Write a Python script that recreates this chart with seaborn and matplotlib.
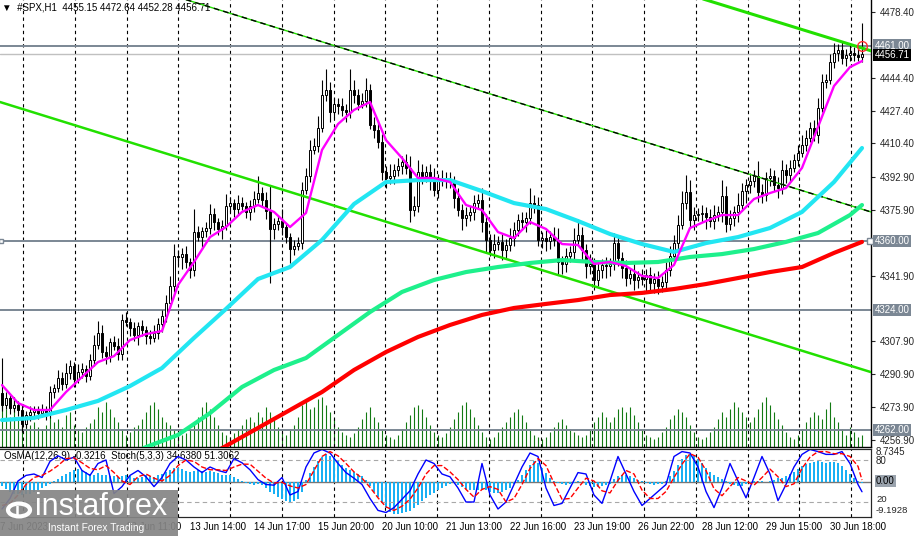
import numpy as np
import matplotlib
matplotlib.use("Agg")
import matplotlib.pyplot as plt
import seaborn as sns
from matplotlib.patches import Rectangle, Circle

sns.set_style("white")
plt.rcParams["font.family"] = ["Liberation Sans", "DejaVu Sans"]

# --- dados ---
first_open = 4281.2
closes = [
    4275.0, 4278.6, 4273.4, 4275.0, 4272.4, 4265.2, 4269.8, 4271.4, 4272.4, 4270.8,
    4272.4, 4270.3, 4281.7, 4283.8, 4289.0, 4285.9, 4291.5, 4295.2, 4288.4, 4292.1,
    4293.6, 4290.0, 4298.3, 4306.0, 4312.3, 4302.4, 4300.3, 4307.6, 4305.5, 4301.4,
    4319.0, 4317.9, 4314.8, 4311.2, 4315.9, 4313.8, 4310.7, 4309.7, 4312.3, 4316.9,
    4321.1, 4327.8, 4336.6, 4352.1, 4351.6, 4353.1, 4349.0, 4344.9, 4364.5, 4361.9,
    4365.0, 4366.6, 4373.8, 4369.7, 4366.1, 4367.6, 4378.0, 4379.5, 4376.4, 4379.5,
    4378.0, 4374.9, 4378.0, 4381.6, 4384.7, 4381.1, 4375.4, 4366.1, 4368.7, 4370.2,
    4367.1, 4361.9, 4355.7, 4357.3, 4358.8, 4386.3, 4393.5, 4407.0, 4409.0, 4418.4,
    4435.4, 4438.0, 4426.6, 4430.8, 4429.7, 4427.7, 4426.6, 4438.0, 4435.4, 4430.8,
    4432.3, 4438.0, 4419.9, 4417.3, 4411.1, 4395.6, 4392.5, 4393.5, 4396.6, 4398.7,
    4400.8, 4397.7, 4375.9, 4378.0, 4395.6, 4393.5, 4395.6, 4392.5, 4386.3, 4391.4,
    4392.5, 4391.4, 4390.4, 4382.1, 4375.9, 4371.8, 4373.3, 4374.9, 4379.5, 4381.1,
    4369.7, 4360.4, 4355.2, 4358.3, 4359.4, 4355.2, 4357.8, 4361.4, 4365.6, 4370.7,
    4369.7, 4371.8, 4379.5, 4378.5, 4360.4, 4361.4, 4359.9, 4361.9, 4360.4, 4349.0,
    4348.0, 4352.1, 4354.2, 4360.4, 4363.0, 4355.2, 4346.9, 4348.0, 4339.7, 4344.9,
    4347.5, 4346.9, 4348.0, 4358.8, 4351.1, 4345.9, 4340.7, 4342.8, 4339.7, 4341.2,
    4340.2, 4342.3, 4338.1, 4340.2, 4336.6, 4338.7, 4344.9, 4352.1, 4358.8, 4368.2,
    4379.5, 4385.2, 4370.7, 4373.3, 4373.8, 4374.4, 4372.3, 4370.2, 4373.3, 4374.9,
    4383.2, 4368.7, 4371.8, 4374.9, 4378.5, 4385.7, 4388.9, 4390.9, 4393.5, 4385.2,
    4383.7, 4392.5, 4393.5, 4388.9, 4387.3, 4396.6, 4394.0, 4397.7, 4401.8, 4405.4,
    4409.6, 4413.2, 4418.4, 4414.7, 4428.7, 4442.2, 4443.2, 4452.5, 4457.2, 4458.7,
    4454.6, 4456.1, 4457.2, 4456.1, 4455.15, 4456.71,
]
upper_wick = [
    18, 3, 2, 4, 2, 3, 2, 3, 2, 2, 3, 2, 3,
    2, 4, 3, 5, 3, 2, 4, 3, 2, 3, 5, 6, 4,
    3, 2, 3, 4, 3, 4, 2, 3, 2, 3, 2, 3, 4,
    3, 3, 4, 5, 6, 3, 3, 4, 2, 12, 3, 2, 3,
    5, 3, 2, 3, 6, 3, 2, 4, 3, 2, 3, 4, 9,
    3, 4, 13, 3, 3, 6, 2, 2, 3, 3, 4, 4, 5,
    4, 6, 8, 11, 4, 3, 3, 4, 3, 11, 5, 3, 4,
    6, 3, 4, 5, 4, 3, 6, 3, 4, 3, 4, 6, 5,
    6, 4, 3, 4, 5, 3, 4, 3, 4, 3, 5, 3, 4,
    3, 4, 3, 6, 4, 3, 5, 3, 4, 3, 5, 4, 3,
    4, 3, 8, 4, 4, 3, 4, 3, 5, 6, 3, 4, 3,
    6, 8, 4, 3, 5, 3, 4, 3, 4, 3, 5, 4, 3,
    4, 3, 5, 3, 4, 3, 4, 3, 4, 3, 4, 5, 4,
    5, 6, 9, 6, 4, 3, 4, 3, 4, 5, 3, 8, 5,
    4, 3, 6, 4, 3, 4, 3, 8, 4, 3, 4, 3, 4,
    5, 3, 4, 3, 4, 5, 4, 3, 4, 5, 4, 3, 4,
    5, 3, 4, 3, 4, 3, 4, 15.93,
]
lower_wick = [
    3, 2, 3, 2, 3, 4, 2, 3, 2, 3, 2, 3, 2,
    3, 2, 3, 2, 3, 4, 2, 3, 3, 2, 3, 2, 3,
    4, 3, 2, 3, 3, 2, 4, 3, 5, 3, 4, 3, 2,
    3, 4, 3, 2, 3, 4, 6, 3, 4, 3, 2, 6, 3,
    3, 4, 3, 5, 2, 3, 4, 3, 2, 3, 4, 3, 2,
    3, 4, 28, 5, 3, 4, 3, 7, 3, 2, 3, 2, 3,
    2, 3, 2, 3, 5, 3, 4, 3, 5, 3, 4, 3, 2,
    3, 2, 4, 3, 4, 5, 3, 4, 3, 4, 3, 6, 3,
    3, 4, 3, 6, 3, 4, 3, 4, 3, 5, 3, 6, 4,
    3, 4, 3, 5, 6, 3, 4, 3, 5, 4, 3, 4, 3,
    4, 5, 3, 4, 3, 4, 5, 4, 3, 6, 5, 4, 3,
    4, 3, 5, 6, 4, 5, 3, 4, 6, 5, 3, 4, 5,
    4, 3, 5, 4, 3, 6, 4, 5, 4, 3, 4, 3, 2,
    3, 2, 3, 4, 5, 3, 4, 6, 3, 4, 3, 5, 4,
    3, 4, 5, 3, 6, 4, 3, 5, 4, 3, 4, 3, 5,
    3, 4, 3, 2, 3, 2, 3, 2, 3, 4, 2, 3, 2,
    3, 4, 3, 4, 3, 3, 2, 2.87,
]
volume = [
    45, 38, 30, 50, 28, 35, 30, 22, 25, 20, 18, 22, 30,
    25, 28, 20, 32, 35, 22, 18, 15, 20, 24, 28, 40, 35,
    45, 38, 30, 25, 18, 12, 15, 20, 22, 28, 35, 42, 45,
    38, 30, 25, 22, 18, 15, 12, 14, 18, 25, 30, 40, 45,
    38, 30, 22, 15, 12, 10, 14, 18, 22, 28, 30, 25, 35,
    30, 40, 35, 28, 20, 15, 12, 18, 22, 30, 42, 45, 38,
    40, 48, 50, 42, 35, 28, 20, 15, 12, 10, 14, 20, 28,
    35, 40, 30, 25, 18, 12, 10, 8, 12, 18, 25, 32, 40,
    42, 38, 30, 22, 15, 12, 10, 14, 20, 28, 35, 42, 45,
    38, 30, 22, 15, 10, 8, 10, 15, 20, 25, 30, 35, 38,
    32, 25, 18, 12, 10, 8, 10, 15, 20, 25, 28, 22, 18,
    15, 12, 10, 12, 18, 25, 30, 35, 30, 25, 30, 38, 40,
    35, 40, 32, 25, 18, 12, 10, 8, 10, 15, 20, 28, 32,
    38, 35, 30, 22, 15, 10, 8, 10, 15, 20, 28, 35, 30,
    38, 45, 40, 35, 30, 25, 30, 38, 45, 50, 42, 35, 28,
    22, 15, 10, 8, 12, 18, 25, 30, 35, 32, 28, 38, 45,
    30, 25, 18, 12, 20, 15, 10, 12,
]

# médias móveis (amostradas do gráfico)
ma_fast_idx = list(range(0, 216, 4)) + [215]
ma_fast = [
    4285.3, 4276.0, 4272.4, 4272.4, 4281.7, 4289.5, 4297.2, 4300.3, 4308.6, 4311.7,
    4313.3, 4337.1, 4349.0, 4361.9, 4367.1, 4374.9, 4378.5, 4374.9, 4367.1, 4374.4,
    4407.0, 4420.4, 4427.7, 4431.8, 4412.1, 4402.8, 4392.5, 4392.5, 4390.4, 4378.5,
    4375.9, 4364.5, 4361.4, 4369.7, 4366.1, 4358.3, 4357.8, 4348.0, 4349.0, 4346.9,
    4341.8, 4340.7, 4347.5, 4366.6, 4370.2, 4373.3, 4373.3, 4381.6, 4384.7, 4387.3,
    4397.7, 4418.9, 4440.1, 4449.9, 4453.0,
]
ma_cyan_idx = list(range(0, 216, 8)) + [215]
ma_cyan = [
    4267.2, 4268.3, 4272.4, 4277.1, 4284.8, 4294.1, 4309.7, 4324.7, 4340.2, 4346.4,
    4360.4, 4379.0, 4390.4, 4391.4, 4391.4, 4385.7, 4379.5, 4376.4, 4370.2, 4363.5,
    4358.3, 4354.2, 4358.8, 4361.9, 4366.6, 4374.9, 4390.4, 4408.0,
]
ma_green_idx = [32, 36] + list(range(44, 213, 8)) + [215]
ma_green = [
    4249.1, 4253.2, 4259.5, 4270.8, 4284.3, 4293.1, 4299.3, 4311.2, 4323.1, 4333.5,
    4339.7, 4343.8, 4346.4, 4348.5, 4350.0, 4349.0, 4348.5, 4349.0, 4351.6, 4353.1,
    4355.7, 4359.4, 4364.0, 4373.3, 4378.5,
]
ma_red_idx = [52, 56] + list(range(64, 209, 8)) + [215]
ma_red = [
    4249.1, 4253.8, 4263.1, 4272.4, 4281.7, 4293.1, 4302.4, 4310.2, 4316.4, 4321.6,
    4325.2, 4327.3, 4329.3, 4331.9, 4333.0, 4335.0, 4337.6, 4340.7, 4343.8, 4346.4,
    4353.7, 4359.4,
]

# linhas de tendência (pontos de ancoragem)
chan_low_x, chan_low_y = [-0.5, 217.25], [4431.8, 4292.0]
chan_up_x, chan_up_y = [175.0, 217.25], [4485.3, 4458.3]
dash_x, dash_y = [46.0, 217.25], [4484.8, 4374.9]

levels = [4461.00, 4360.00, 4324.00, 4262.00]
bid = 4456.71
price_ticks = [4478.40, 4444.40, 4427.40, 4410.40, 4392.90, 4375.90,
               4341.90, 4307.90, 4290.90, 4273.90, 4256.90]

# OsMA e estocástico
osma = [
    -1.0, -1.8, -2.5, -3.0, -3.2, -3.3, -3.2, -3.0, -2.6,
    -2.0, -1.5, -1.0, -0.5,
    0.3, 0.8, 1.5, 2.2, 2.8, 3.3, 3.5, 3.2,
    2.6, 2.2, 2.0, 2.3, 2.0, 1.8, 1.5, 1.6,
    1.4, 1.5, 1.8, 1.6, 1.2,
    1.0, 1.3, 1.8, 1.6, 1.4, 1.8, 2.2,
    2.8, 3.3, 3.8, 3.7, 3.4, 3.0, 2.6, 3.0,
    3.2, 3.0, 2.8, 3.0, 2.7, 2.3, 2.0,
    2.0, 1.8, 1.4, 0.8, 0.2,
    -0.3, -0.6, -0.8, -0.5, -0.8, -1.5, -2.5, -3.2,
    -3.8, -4.5, -5.0, -5.4, -5.0, -4.5, -2.5,
    0.5, 2.5, 4.0, 5.5, 6.5, 7.3, 7.0, 6.5,
    5.5, 4.5, 3.8, 3.3, 2.8, 2.2, 1.5,
    0.5, -1.0, -2.5, -4.0, -5.5,
    -6.8, -7.8, -8.5, -8.5, -8.2, -7.8, -7.5,
    -6.8, -6.0, -5.0, -4.2, -3.5, -2.8, -2.2, -1.5,
    -1.0, -0.5, -0.2, -0.8, -1.3, -1.8,
    -2.0, -2.2, -2.0, -1.8, -2.2, -2.6, -2.8, -2.8, -2.6, -2.2, -1.5, -0.5,
    0.5, 1.8, 3.2, 4.5, 5.5, 5.0,
    3.8, 2.5, 1.2, 0.3, -0.3, -0.6,
    -0.8, -0.6, -0.2, 0.2, -0.2, -0.8, -1.0, -1.2, -1.3, -1.0, -0.8, -0.5,
    0.8, 1.5, 2.0, 1.8, 1.5, 1.2, 0.6, 0.2,
    -0.3, -0.6, -0.8, -0.6, -0.4, 0.2,
    1.5, 3.0, 4.5, 6.0, 7.2, 7.5, 7.0, 6.0,
    5.0, 3.8, 2.8, 2.0, 1.4, 0.8, 0.2,
    -0.4, -0.8, -1.0, -0.9, -0.6, -0.2, 0.2,
    0.3, 0.2, 0.1, 0.3, 0.6,
    1.0, 1.2, 1.6, 2.2, 2.8, 3.5, 4.2, 4.8, 5.0, 5.3, 5.5, 5.3,
    5.0, 5.2, 5.4, 5.0, 4.2, 3.2, 2.2, 1.2, 0.4, -0.3216,
]
stoch_idx = list(range(0, 216, 2)) + [215]
stoch_main = [
    10, 25, 50, 58, 60, 55, 78, 86, 80, 84,
    65, 58, 75, 80, 32, 42, 58, 65, 56, 42,
    55, 75, 85, 80, 70, 62, 70, 65, 62, 82,
    76, 66, 52, 45, 44, 55, 30, 35, 70, 90,
    95, 90, 75, 62, 54, 45, 25, 8, 5, 12,
    24, 36, 60, 80, 75, 60, 56, 40, 20, 20,
    75, 30, 10, 20, 45, 70, 90, 85, 40, 15,
    18, 40, 62, 60, 30, 18, 50, 85, 60, 35,
    15, 25, 35, 45, 85, 92, 90, 70, 35, 12,
    40, 75, 50, 26, 55, 85, 60, 22, 45, 70,
    88, 95, 92, 88, 88, 92, 75, 45, 34.638,
]
stoch_signal = [
    15, 18, 30, 45, 55, 58, 64, 72, 82, 83,
    76, 68, 66, 72, 62, 50, 45, 56, 60, 54,
    50, 58, 72, 80, 78, 70, 66, 66, 65, 70,
    74, 74, 64, 54, 47, 48, 43, 40, 45, 65,
    85, 92, 86, 75, 63, 54, 41, 26, 13, 8,
    14, 24, 40, 60, 72, 72, 63, 52, 38, 27,
    38, 42, 38, 20, 25, 45, 68, 82, 72, 47,
    24, 25, 40, 54, 50, 36, 33, 51, 65, 60,
    37, 25, 25, 35, 55, 74, 89, 84, 65, 39,
    29, 42, 55, 50, 44, 55, 67, 56, 42, 46,
    68, 84, 92, 92, 89, 89, 85, 71, 51.3062,
]

time_labels = ["7 Jun 2023", "12 Jun 11:00", "13 Jun 14:00", "14 Jun 17:00",
               "15 Jun 20:00", "20 Jun 10:00", "21 Jun 13:00", "22 Jun 16:00",
               "23 Jun 19:00", "26 Jun 22:00", "28 Jun 12:00", "29 Jun 15:00",
               "30 Jun 18:00"]
time_label_pos = [-0.5, 31, 47, 63, 79, 95, 111, 127, 143, 159, 175, 191, 207]
grid_pos = [5.25 + 12.94 * k for k in range(17)]

# --- figura ---
W, H = 920, 536
fig = plt.figure(figsize=(W / 100, H / 100), dpi=100)
main_rect = [0, 1 - 447 / H, 871 / W, 447 / H]
sub_rect = [0, 1 - 517 / H, 871 / W, 68 / H]
xlim = (-0.5, 217.25)
ylim = (4484.61 - 0.5176 * 447, 4484.61)

# volumes atrás das velas
ax_v = fig.add_axes(main_rect, zorder=0)
idx = np.arange(len(closes))
ax_v.vlines(idx, 0, volume, color="#137a13", lw=0.8)
ax_v.set_xlim(*xlim)
ax_v.set_ylim(0, 447)
ax_v.axis("off")

ax = fig.add_axes(main_rect, zorder=2)
ax.patch.set_visible(False)
ax.set_xlim(*xlim)
ax.set_ylim(*ylim)

for g in grid_pos:
    ax.axvline(g, color="black", lw=0.8, ls=(0, (3, 3)), zorder=1)

for lv in levels:
    ax.axhline(lv, color="#7b8794", lw=1.4, zorder=1)
ax.axhline(bid, color="#c0c0c0", lw=1.0, zorder=1)

c = np.array(closes)
o = np.array([first_open] + closes[:-1])
hi = np.maximum(o, c) + np.array(upper_wick)
lo = np.minimum(o, c) - np.array(lower_wick)
ax.vlines(idx, lo, hi, color="black", lw=0.8, zorder=3)
up = c >= o
h_up = np.maximum((c - o)[up], 0.4)
h_dn = np.maximum((o - c)[~up], 0.4)
ax.bar(idx[up], h_up, bottom=o[up], width=0.72, color="white", edgecolor="black", lw=0.7, zorder=4)
ax.bar(idx[~up], h_dn, bottom=c[~up], width=0.72, color="black", edgecolor="black", lw=0.7, zorder=4)

# linhas de tendência
sns.lineplot(x=chan_low_x, y=chan_low_y, ax=ax, color="#22e000", lw=1.8, zorder=5)
sns.lineplot(x=chan_up_x, y=chan_up_y, ax=ax, color="#22e000", lw=2.2, zorder=5)
sns.lineplot(x=dash_x, y=dash_y, ax=ax, color="#22e000", lw=1.0, zorder=5)
ax.plot(dash_x, dash_y, color="black", lw=1.0, ls=(0, (4, 3)), zorder=5)

# médias móveis
sns.lineplot(x=ma_red_idx, y=ma_red, ax=ax, color="#ff0000", lw=3.0, zorder=6)
sns.lineplot(x=ma_green_idx, y=ma_green, ax=ax, color="#1ef08c", lw=3.0, zorder=6)
sns.lineplot(x=ma_cyan_idx, y=ma_cyan, ax=ax, color="#22e6f2", lw=3.0, zorder=6)
sns.lineplot(x=ma_fast_idx, y=ma_fast, ax=ax, color="#ff00ff", lw=1.7, zorder=7)

ax.plot([215], [levels[0]], "o", ms=7, mfc="none", mec="#ff3030", mew=1.0, zorder=8)
ax.plot([217.1], [levels[1]], "s", ms=4, mfc="white", mec="#7b8794", mew=1.0,
        zorder=8, clip_on=False)
ax.plot([-0.3], [levels[1]], "s", ms=3, mfc="white", mec="#7b8794", mew=1.0,
        zorder=8, clip_on=False)

ax.yaxis.tick_right()
ax.set_yticks(price_ticks)
ax.set_yticklabels([f"{p:.2f}" for p in price_ticks])
ax.tick_params(axis="y", labelsize=7, length=3, width=0.8, pad=3, right=True, left=False)
ax.set_xticks([])
ax.set_xlabel("")
ax.set_ylabel("")
for s in ["top", "left"]:
    ax.spines[s].set_visible(False)
for s in ["right", "bottom"]:
    ax.spines[s].set_color("black")
    ax.spines[s].set_linewidth(1.0)

yt = ax.get_yaxis_transform()
for lv in levels:
    ax.text(1.004, lv, f"{lv:.2f}", transform=yt, ha="left", va="center", fontsize=7,
            color="white", bbox=dict(boxstyle="square,pad=0.12", fc="#7b8794", ec="none"))
ax.text(1.004, bid - 0.4, f"{bid:.2f}", transform=yt, ha="left", va="center", fontsize=7,
        color="white", bbox=dict(boxstyle="square,pad=0.12", fc="black", ec="none"))

ax.text(2 / 871, 1 - 8 / 447, "\u25bc  #SPX,H1  4455.15 4472.64 4452.28 4456.71",
        transform=ax.transAxes, ha="left", va="center", fontsize=7, color="black",
        family=["Liberation Sans", "DejaVu Sans"])

# --- sub-janela OsMA + Stoch ---
ax_o = fig.add_axes(sub_rect, zorder=1)
ax_o.set_xlim(*xlim)
ax_o.set_ylim(-9.1928, 8.7345)
for g in grid_pos:
    ax_o.axvline(g, color="black", lw=0.8, ls=(0, (3, 3)), zorder=1)
ax_o.axhline(0, color="#777777", lw=1.0, zorder=2)
ax_o.bar(np.arange(len(osma)), osma, width=0.72, color="#18b0f4", lw=0, zorder=3)
ax_o.set_xticks([])
ax_o.set_yticks([])
ax_o.spines["left"].set_visible(False)

ax_s = ax_o.twinx()
ax_s.set_ylim(-1.43, 95.7)
ax_s.set_xlim(*xlim)
ax_s.axhline(80, color="#a8a8a8", lw=0.8, ls=(0, (4, 3)))
ax_s.axhline(20, color="#a8a8a8", lw=0.8, ls=(0, (4, 3)))
sns.lineplot(x=stoch_idx, y=stoch_main, ax=ax_s, color="#0000ff", lw=1.0)
sns.lineplot(x=stoch_idx, y=stoch_signal, ax=ax_s, color="#ff0000", lw=1.0, linestyle="--")
ax_s.set_yticks([])
ax_s.set_ylabel("")
ax_s.spines["left"].set_visible(False)

ax_o.text(4 / 871, 0.89, "OsMA(12,26,9) -0.3216  Stoch(5,3,3) 34.6380 51.3062",
          transform=ax_o.transAxes, ha="left", va="center", fontsize=7, color="black",
          zorder=6)


def fx(px):
    return px / W


def fy(py):
    return 1 - py / H


fig.text(fx(876), fy(452), "8.7345", fontsize=7, va="center")
fig.text(fx(876), fy(461), "80", fontsize=7, va="center")
fig.text(fx(876), fy(481), "0.00", fontsize=7, va="center", color="black",
         bbox=dict(boxstyle="square,pad=0.12", fc="#9aa3ad", ec="none"))
fig.text(fx(876), fy(499), "20", fontsize=6.8, va="center")
fig.text(fx(876), fy(510.5), "-9.1928", fontsize=6.8, va="center")

for lab, pos in zip(time_labels, time_label_pos):
    ax_o.text(pos, -0.15, lab, transform=ax_o.get_xaxis_transform(), ha="left",
              va="center", fontsize=7, color="black")

# logotipo
fig.patches.append(Rectangle((0, 0), 178 / W, 46 / H, transform=fig.transFigure,
                             fc="#858585", ec="none", alpha=0.92, zorder=10))
fig.patches.append(Circle((fx(19), fy(510)), 11 / W, transform=fig.transFigure,
                          fc="none", ec="white", lw=3, zorder=11))
fig.text(fx(15), fy(511), "i", fontsize=13, color="white", fontweight="bold",
         va="center", zorder=12)
fig.text(fx(35), fy(507), "instaforex", fontsize=22, color="white", va="center",
         zorder=12)
fig.text(fx(48), fy(528), "Instant Forex Trading", fontsize=7.3, color="white",
         va="center", zorder=12)

fig.savefig("out.png", dpi=100)
